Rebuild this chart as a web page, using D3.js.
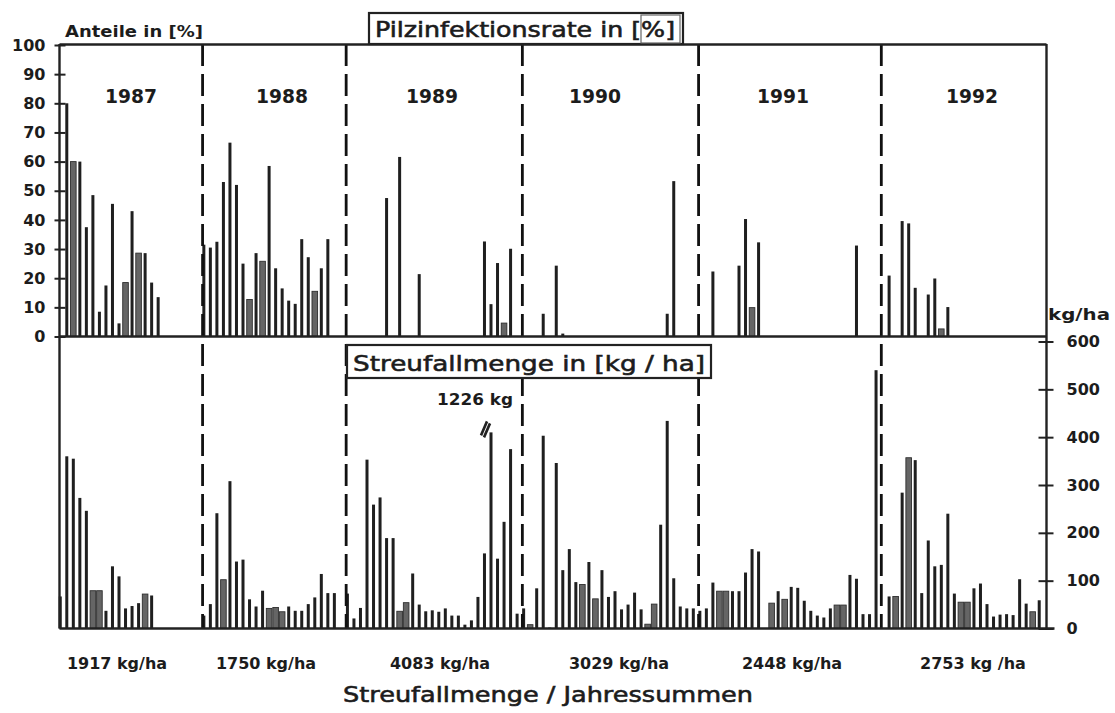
<!DOCTYPE html>
<html><head><meta charset="utf-8">
<script src="https://cdn.jsdelivr.net/npm/d3@7"></script>
<style>
body{margin:0;background:#fff;}
svg{display:block;}
text{font-family:"DejaVu Sans",sans-serif;fill:#1c1c1c;}
</style></head><body>
<svg id="c" width="1115" height="713"></svg>
<script>
// ---------------- data ----------------
const years = ["1987","1988","1989","1990","1991","1992"];

// Pilzinfektionsrate in % (one entry per sampling slot, null = no value)
const infection1987 = [null,80,60,60,37.5,48.5,8.5,17.5,45.5,4.5,18.5,43,28.6,28.6,18.5,13.5,null,null,null,null,null,null];
const infection1988 = [31.5,30.5,32.5,53,66.5,52,25,12.7,28.6,25.8,58.5,23.4,16.5,12.3,11.2,33.4,27.2,15.5,23.4,33.4,null,null];
const infection1989 = [null,null,null,null,null,null,47.5,null,61.6,null,null,21.4,null,null,null,null,null,null,null,null,null,32.6,11.1,25.2,4.6,30.1,null];
const infection1990 = [null,null,null,7.8,null,24.3,1,null,null,null,null,null,null,null,null,null,null,null,null,null,null,null,7.8,53.3,null,null,null];
const infection1991 = [null,null,22.3,null,null,null,24.3,40.3,9.9,32.3,null,null,null,null,null,null,null,null,null,null,null,null,null,null,31.2,null,null,null];
const infection1992 = [null,20.9,null,39.6,38.8,16.7,null,14.4,19.9,2.6,10.1,null,null,null,null,null,null,null,null,null,null,null,null,null,null,null];

// Streufallmenge in kg/ha
const litter1987 = [67,360,355,273,246,79,79,37,130,109,42,47,53,72,69,null,null,null,null,null,null,null];
const litter1988 = [27,51,241,102,308,140,144,61,46,79,42,44,35,46,37,37,51,65,114,74,74,null];
const litter1989 = [73,21,43,353,259,274,189,189,36,54,115,50,36,38,35,42,27,27,8,17,66,157,1226,146,223,375,31];
const litter1990 = [42,8,84,403,2,346,122,166,97,92,139,62,122,66,78,40,50,75,40,9,51,217,434,105,46,42,42];
const litter1991 = [37,42,96,78,78,78,78,117,166,161,null,53,78,61,87,85,58,37,27,23,42,49,49,112,104,30,30,540];
const litter1992 = [null,67,67,284,357,352,74,184,130,133,240,73,55,55,84,94,51,25,29,30,28,103,52,35,59,null];

// samples printed as stippled (grey) bars
const greyInfection = ["1987-3","1987-11","1987-13","1988-8","1988-10","1988-18","1989-25","1991-9","1992-10"];
const greyLitter = ["1987-6","1987-7","1987-14","1988-4","1988-11","1988-12","1988-13","1989-9","1989-10",
  "1990-2","1990-10","1990-12","1990-20","1990-21","1991-4","1991-5","1991-12","1991-14","1991-22","1991-23",
  "1992-3","1992-5","1992-13","1992-14","1992-24"];

const annualTotals = ["1917 kg/ha","1750 kg/ha","4083 kg/ha","3029 kg/ha","2448 kg/ha","2753 kg /ha"];

const infectionTicks = [0,10,20,30,40,50,60,70,80,90,100];
const litterTicks = [0,100,200,300,400,500,600];
const litterBreakValue = 410; // truncated display height for off-scale bar

// ---------------- build ----------------
const infectionByYear = [infection1987,infection1988,infection1989,infection1990,infection1991,infection1992];
const litterByYear = [litter1987,litter1988,litter1989,litter1990,litter1991,litter1992];
const samples = [];
years.forEach((y,yi)=>{
  litterByYear[yi].forEach((v,i)=>{
    samples.push({id:`${y}-${i+1}`, year:y, idx:i, litter:v, infection:infectionByYear[yi][i]});
  });
});

const svg = d3.select("#c");
const LEFT = 59.5, RIGHT = 1046.5;
const x = d3.scaleBand().domain(samples.map(d=>d.id)).range([57, 1049]).padding(0);
const yTop = d3.scaleLinear().domain([0,100]).range([336.5, 45]);
const yBot = d3.scaleLinear().domain([0,600]).range([628.5, 341.5]);
const bw = x.bandwidth();
const ink = "#222";

const greyI = new Set(greyInfection), greyL = new Set(greyLitter);
function barAttrs(sel, yScale, valFn, greySet){
  sel.attr("x", d => greySet.has(d.id) ? x(d.id)+bw/2-2.8 : x(d.id)+bw/2-1.5)
     .attr("width", d => greySet.has(d.id) ? 5.6 : 3.0)
     .attr("y", d => yScale(valFn(d)))
     .attr("height", d => yScale(0)-yScale(valFn(d)))
     .attr("fill", d => greySet.has(d.id) ? "#656565" : "#1f1f1f")
     .attr("stroke", d => greySet.has(d.id) ? "#2e2e2e" : "none")
     .attr("stroke-width", 0.9);
}
svg.append("g").selectAll("rect").data(samples.filter(d=>d.infection!=null)).join("rect")
  .call(barAttrs, yTop, d=>d.infection, greyI);
svg.append("g").selectAll("rect").data(samples.filter(d=>d.litter!=null)).join("rect")
  .call(barAttrs, yBot, d=>d.litter>600 ? litterBreakValue : d.litter, greyL);

// off-scale marker
samples.filter(d=>d.litter!=null && d.litter>600).forEach(d=>{
  const bx = x(d.id)+bw/2, bt = yBot(litterBreakValue);
  svg.append("path").attr("d",`M${bx-10},${bt+3} L${bx-4},${bt-11} M${bx-7},${bt+5} L${bx-1},${bt-9}`)
    .attr("stroke",ink).attr("stroke-width",2.6).attr("fill","none");
  svg.append("text").attr("x",bx-16).attr("y",bt-27).attr("text-anchor","middle")
    .attr("font-weight","bold").attr("font-size",15).attr("textLength",76).attr("lengthAdjust","spacingAndGlyphs")
    .text(`${d.litter} kg`);
});

// year separators (dashed)
const yearStarts = years.slice(1).map(y => samples.find(s=>s.year===y).id);
svg.append("g").selectAll("line").data(yearStarts).join("line")
  .attr("x1", d=>x(d)+2).attr("x2", d=>x(d)+2)
  .attr("y1", 44).attr("y2", 628.5)
  .attr("stroke","#111").attr("stroke-width",2.8).attr("stroke-dasharray","22,8");

// frame lines
const frame = svg.append("g").attr("stroke",ink).attr("stroke-width",2.4);
frame.append("line").attr("x1",LEFT).attr("x2",RIGHT).attr("y1",44.5).attr("y2",44.5);
frame.append("line").attr("x1",LEFT).attr("x2",RIGHT).attr("y1",yTop(0)).attr("y2",yTop(0));
frame.append("line").attr("x1",LEFT).attr("x2",RIGHT+8).attr("y1",yBot(0)).attr("y2",yBot(0));
frame.append("line").attr("x1",LEFT).attr("x2",LEFT).attr("y1",44).attr("y2",yBot(0));
frame.append("line").attr("x1",RIGHT).attr("x2",RIGHT).attr("y1",44).attr("y2",yBot(0));

// left axis (infection %)
const gL = svg.append("g").attr("transform",`translate(${LEFT},0)`)
  .call(d3.axisLeft(yTop).tickValues(infectionTicks).tickSize(0).tickPadding(14));
gL.select(".domain").remove();
gL.selectAll(".tick").append("line").attr("x1",-5).attr("x2",6).attr("stroke",ink).attr("stroke-width",2);
gL.selectAll("text").attr("font-size",16).attr("font-weight","bold").attr("fill","#1c1c1c")
  .style("font-family",'"DejaVu Sans",sans-serif');

// right axis (kg/ha)
const gR = svg.append("g").attr("transform",`translate(${RIGHT},0)`)
  .call(d3.axisRight(yBot).tickValues(litterTicks).tickSize(0).tickPadding(20));
gR.select(".domain").remove();
gR.selectAll(".tick").append("line").attr("x1",-8).attr("x2",7).attr("stroke",ink).attr("stroke-width",2);
gR.selectAll("text").attr("font-size",16).attr("font-weight","bold").attr("fill","#1c1c1c")
  .style("font-family",'"DejaVu Sans",sans-serif');

// axis unit labels
svg.append("text").attr("x",65).attr("y",37).attr("font-weight","bold").attr("font-size",15)
  .attr("textLength",138).attr("lengthAdjust","spacingAndGlyphs").text("Anteile in [%]");
svg.append("text").attr("x",1048).attr("y",320).attr("font-weight","bold").attr("font-size",15)
  .attr("textLength",62).attr("lengthAdjust","spacingAndGlyphs").text("kg/ha");

// title boxes
svg.append("rect").attr("x",369).attr("y",13).attr("width",314).attr("height",31)
  .attr("fill","#fff").attr("stroke",ink).attr("stroke-width",2.2);
svg.append("rect").attr("x",641).attr("y",15).attr("width",39).attr("height",28)
  .attr("fill","#fff").attr("stroke","#666").attr("stroke-width",1.2);
svg.append("text").attr("x",375).attr("y",37).attr("font-size",21)
  .attr("stroke","#1c1c1c").attr("stroke-width",0.6)
  .attr("textLength",300).attr("lengthAdjust","spacingAndGlyphs").text("Pilzinfektionsrate in [%]");

svg.append("rect").attr("x",347).attr("y",345).attr("width",364).attr("height",33)
  .attr("fill","#fff").attr("stroke",ink).attr("stroke-width",2.2);
svg.append("text").attr("x",353).attr("y",371).attr("font-size",22)
  .attr("stroke","#1c1c1c").attr("stroke-width",0.6)
  .attr("textLength",352).attr("lengthAdjust","spacingAndGlyphs").text("Streufallmenge in [kg / ha]");

// year labels
const yearLabelX = [131, 282, 432, 595, 783, 972];
svg.append("g").selectAll("text").data(years).join("text")
  .attr("x",(d,i)=>yearLabelX[i]).attr("y",103).attr("text-anchor","middle")
  .attr("font-weight","bold").attr("font-size",19)
  .attr("textLength",52).attr("lengthAdjust","spacingAndGlyphs").text(d=>d);

// annual totals
const totalX = [117, 266, 440, 619, 792, 973];
svg.append("g").selectAll("text").data(annualTotals).join("text")
  .attr("x",(d,i)=>totalX[i]).attr("y",669).attr("text-anchor","middle")
  .attr("font-weight","bold").attr("font-size",16).text(d=>d);

svg.append("text").attr("x",548).attr("y",702).attr("text-anchor","middle").attr("font-size",22)
  .attr("stroke","#1c1c1c").attr("stroke-width",0.6)
  .attr("textLength",410).attr("lengthAdjust","spacingAndGlyphs").text("Streufallmenge / Jahressummen");
</script>
</body></html>
